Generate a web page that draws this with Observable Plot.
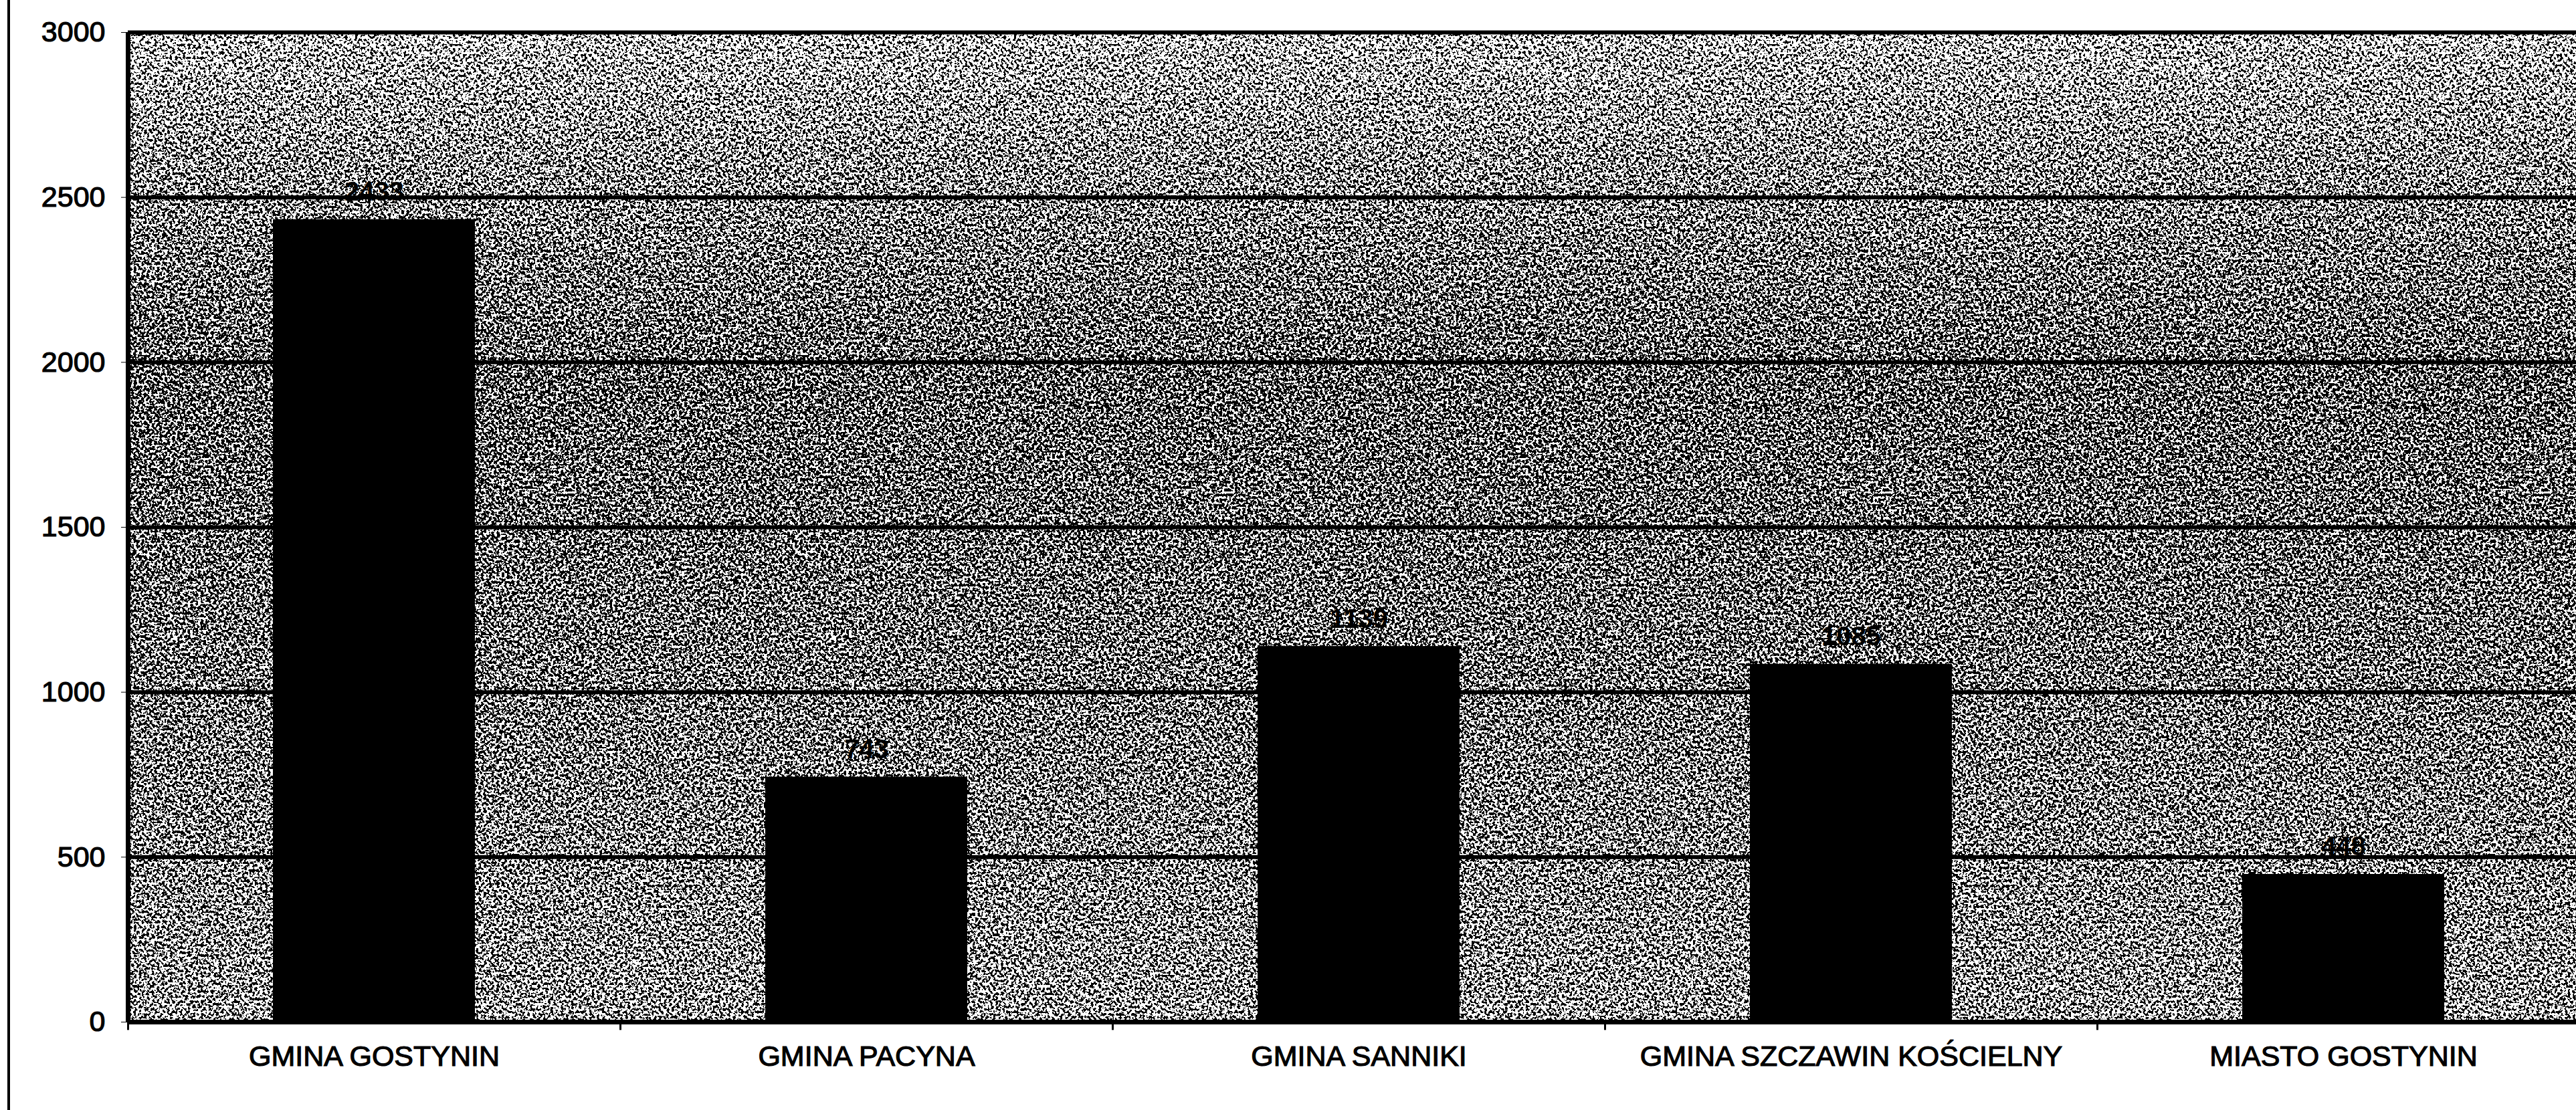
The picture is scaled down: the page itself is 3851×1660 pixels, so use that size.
<!DOCTYPE html>
<html>
<head>
<meta charset="utf-8">
<script src="https://cdn.jsdelivr.net/npm/d3@7"></script>
<script src="https://cdn.jsdelivr.net/npm/@observablehq/plot@0.6"></script>
<style>
  html, body { margin: 0; padding: 0; background: #fff; overflow: hidden; width: 3851px; height: 1660px; }
  #wrap { position: relative; width: 3851px; height: 1660px; overflow: hidden; }
  #edge { position: absolute; left: 11px; top: 0; width: 4px; height: 1660px; background: #000; }
  #chart { position: absolute; left: 0; top: 0; width: 3871px; }
  #chart svg { max-width: none !important; }
</style>
</head>
<body>
<svg width="0" height="0" style="position:absolute">
  <defs>
    <linearGradient id="bgGrad" x1="0" y1="0" x2="0" y2="1">
      <stop offset="0" stop-color="rgb(155,155,155)"/>
      <stop offset="0.12" stop-color="rgb(136,136,136)"/>
      <stop offset="0.35" stop-color="rgb(112,112,112)"/>
      <stop offset="0.6" stop-color="rgb(120,120,120)"/>
      <stop offset="1" stop-color="rgb(138,138,138)"/>
    </linearGradient>
    <filter id="grain" x="0" y="0" width="1" height="1" color-interpolation-filters="sRGB">
      <feTurbulence type="fractalNoise" baseFrequency="0.26" numOctaves="2" seed="7" result="noise"/>
      <feColorMatrix in="noise" type="matrix" values="2 0 0 0 -0.5  2 0 0 0 -0.5  2 0 0 0 -0.5  0 0 0 0 1" result="n"/>
      <feComposite in="SourceGraphic" in2="n" operator="arithmetic" k1="0" k2="1" k3="1" k4="-0.5" result="sum"/>
      <feComponentTransfer in="sum">
        <feFuncR type="discrete" tableValues="0 1"/>
        <feFuncG type="discrete" tableValues="0 1"/>
        <feFuncB type="discrete" tableValues="0 1"/>
      </feComponentTransfer>
    </filter>
  </defs>
</svg>
<div id="wrap"><div id="edge"></div><div id="chart"></div></div>
<script>
const categories = ["GMINA GOSTYNIN", "GMINA PACYNA", "GMINA SANNIKI", "GMINA SZCZAWIN KOŚCIELNY", "MIASTO GOSTYNIN"];
const values = [2433, 743, 1139, 1085, 448];
const yTicks = [0, 500, 1000, 1500, 2000, 2500, 3000];

const data = categories.map((c, i) => ({category: c, value: values[i]}));

const W = 3871, H = 1660, ML = 191, MR = 0, MT = 48, MB = 132;
const step = (W - ML - MR) / categories.length;

const plot = Plot.plot({
  width: W,
  height: H,
  marginLeft: ML,
  marginRight: MR,
  marginTop: MT,
  marginBottom: MB,
  style: {fontFamily: "'Liberation Sans', Arial, sans-serif", fontSize: "43px", color: "#000", background: "transparent", overflow: "visible", maxWidth: "none"},
  x: {domain: categories, paddingInner: 0.59, paddingOuter: 0.295, label: null, tickSize: 0, tickPadding: 35},
  y: {domain: [0, 3000], ticks: yTicks, tickFormat: d => String(d), label: null, tickSize: 10, tickPadding: 24},
  marks: [
    Plot.frame({fill: "url(#bgGrad)", stroke: null}),
    Plot.gridY(yTicks, {stroke: "#000", strokeOpacity: 1, strokeWidth: 6}),
    Plot.barY(data, {x: "category", y: "value", fill: "#000"}),
    Plot.text(data, {x: "category", y: "value", text: d => String(d.value), dy: -28, lineAnchor: "bottom", fontWeight: "bold", fontSize: 40, fill: "#000"}),
    Plot.ruleY([0], {stroke: "#000", strokeWidth: 7}),
    Plot.ruleX([categories[0]], {dx: -step / 2, stroke: "#000", strokeWidth: 7}),
    Plot.ruleX(categories, {x: d => d, dx: -step / 2, y1: 0, y2: -25, stroke: "#000", strokeWidth: 3})
  ]
});

const frameRect = plot.querySelector('[aria-label="frame"] rect') || plot.querySelector('[aria-label="frame"]');
if (frameRect) {
  frameRect.setAttribute("fill", "url(#bgGrad)");
  frameRect.setAttribute("filter", "url(#grain)");
}
plot.querySelectorAll('[aria-label="y-axis tick label"] text, [aria-label="x-axis tick label"] text').forEach(t => {
  t.setAttribute("fill", "#000");
  t.setAttribute("stroke", "#000");
  t.setAttribute("stroke-width", "1.2");
});
document.getElementById("chart").appendChild(plot);
</script>
</body>
</html>
